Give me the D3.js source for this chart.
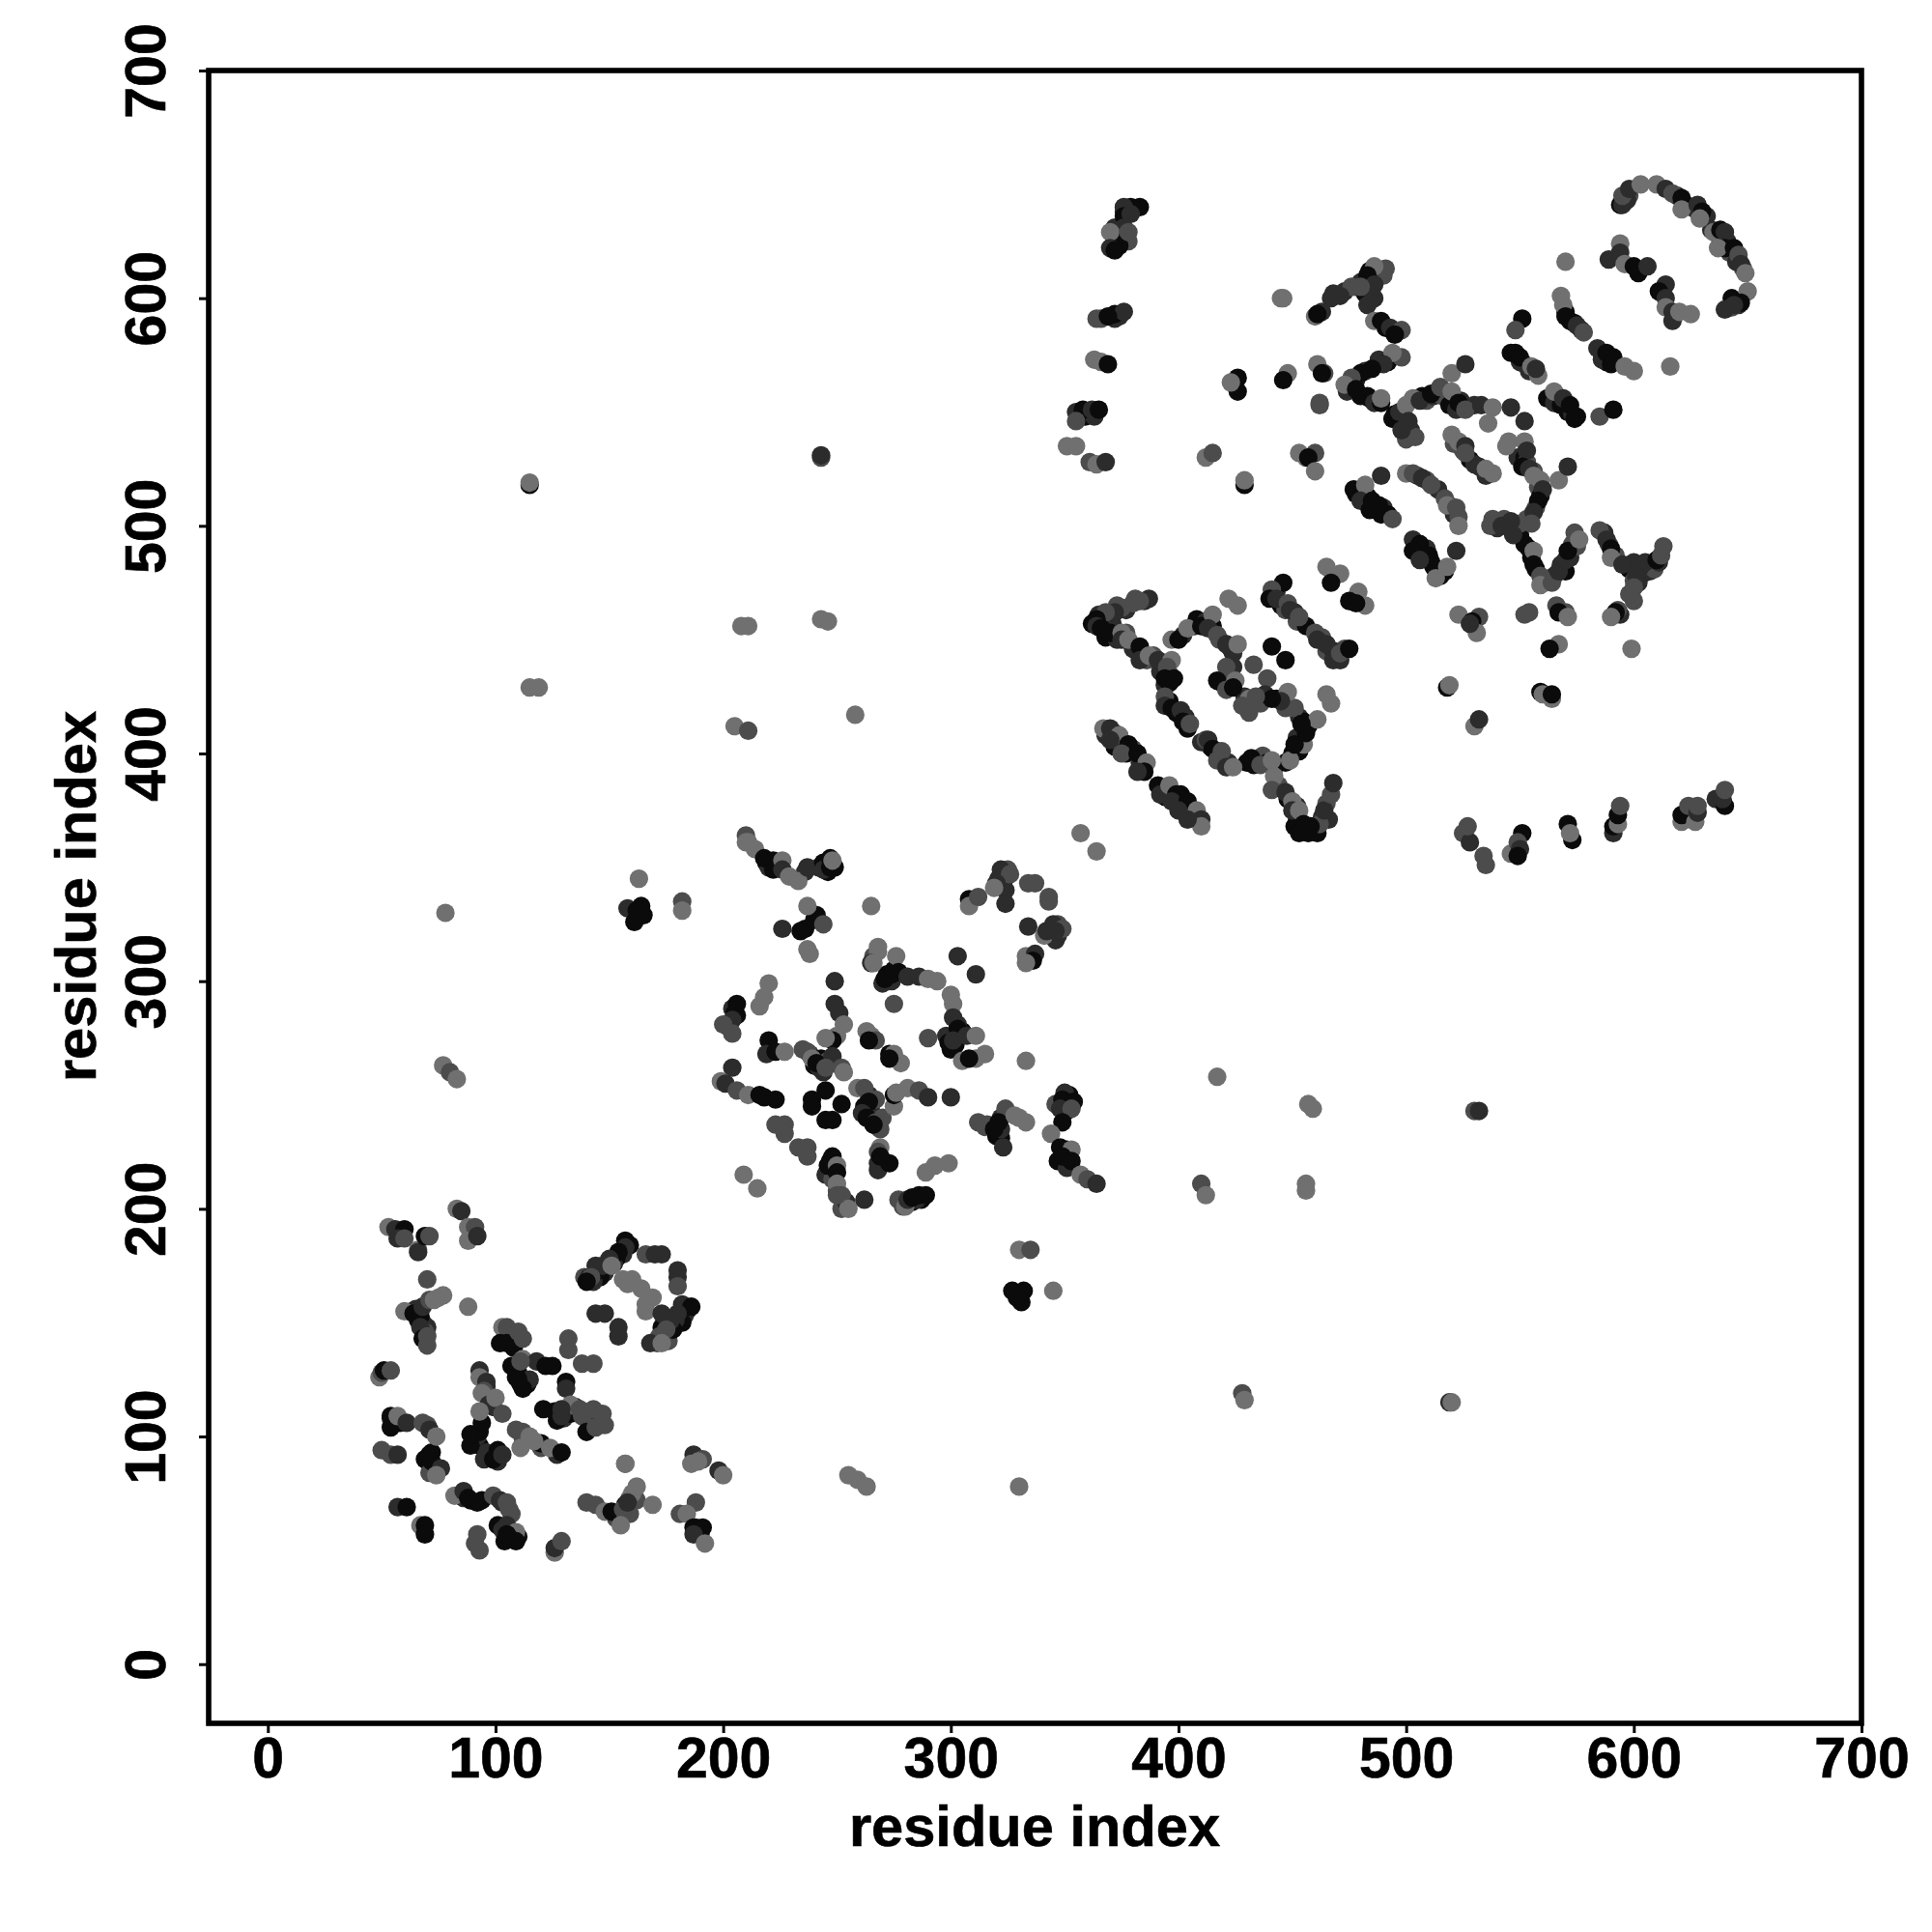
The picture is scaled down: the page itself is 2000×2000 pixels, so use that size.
<!DOCTYPE html>
<html><head><meta charset="utf-8">
<script src="https://cdn.jsdelivr.net/npm/d3@7/dist/d3.min.js"></script>
<style>html,body{margin:0;background:#fff}svg{display:block}</style>
</head><body><svg id="c" width="2000" height="2000"></svg>
<script>
// [residue x, residue y, shade index]
const outliers=[[115,518,0],[115,519,3],[243,530,2],[243,531,1],[208,456,3],[211,456,3],[243,459,3],[246,458,3],[205,412,3],[211,410,2],[258,417,3],[115,429,3],[119,429,3],[163,345,3],[158,332,1],[164,333,0],[161,326,0],[162,331,0],[165,329,0],[182,335,2],[182,331,3],[78,330,3],[77,263,3],[80,260,2],[83,257,3],[330,182,3],[335,182,2],[327,164,0],[332,164,0],[331,159,0],[329,161,0],[345,164,3],[428,119,2],[429,116,3],[519,115,1],[520,115,3],[330,78,3],[255,83,3],[259,81,3],[263,78,3],[417,258,3],[457,246,3],[459,244,3],[530,243,2],[532,243,1],[410,211,2],[412,206,3],[456,211,3],[456,208,3],[157,88,3],[357,365,3],[364,357,3],[412,530,3],[415,532,2],[445,600,3],[599,446,3],[616,570,3],[570,616,3]];
const denseA=[[159,184,0],[156,180,1],[153,178,0],[152,176,1],[148,172,1],[146,170,0],[143,168,1],[145,173,0],[139,170,2],[184,155,0],[183,153,1],[182,150,0],[179,151,1],[176,147,1],[173,148,0],[171,141,2],[176,142,2],[178,147,0],[164,165,3],[68,150,0],[70,148,1],[66,151,0],[65,156,1],[69,146,2],[104,143,1],[108,139,0],[107,131,0],[110,128,0],[114,123,0],[111,123,0],[115,125,1],[130,108,1],[133,110,0],[135,113,1],[127,107,0],[138,109,2],[144,108,2],[146,107,1],[96,122,1],[99,113,1],[94,106,0],[98,115,2],[91,99,0],[93,96,0],[96,93,1],[101,89,1],[92,100,1],[101,94,0],[112,99,2],[120,95,2],[127,92,1],[72,93,0],[73,85,1],[69,90,0],[71,84,2],[101,61,0],[106,57,0],[103,59,1],[110,56,0],[107,66,2],[103,71,1],[89,72,0],[86,73,1],[94,72,0],[157,70,0],[153,64,2],[159,73,3],[162,72,2],[159,66,2],[68,60,0],[188,60,1],[190,57,0],[54,108,1],[58,106,0]];
const denseB=[[219,352,0],[220,350,1],[224,350,1],[242,350,1],[245,351,1],[246,348,0],[249,350,0],[236,348,1],[322,346,1],[323,343,0],[321,345,1],[324,340,1],[325,349,2],[345,322,1],[347,320,1],[344,321,2],[347,325,2],[346,318,1],[304,276,0],[302,272,0],[305,278,0],[298,276,1],[300,270,0],[303,281,1],[272,303,0],[275,305,0],[274,300,1],[270,299,1],[266,311,2],[268,313,3],[206,285,0],[204,288,1],[202,280,1],[238,268,1],[240,263,0],[243,266,0],[246,265,2],[244,260,1],[264,250,1],[262,245,0],[265,243,1],[266,240,1],[268,236,0],[270,240,2],[322,240,1],[320,232,0],[322,231,0],[316,237,2],[351,243,0],[352,250,0],[350,251,1],[346,246,2],[351,226,0],[347,221,0],[351,218,1],[247,221,0],[245,215,1],[248,213,2],[250,208,2],[253,204,3],[252,200,2],[254,203,1],[283,203,0],[287,204,0],[285,204,1],[279,201,2],[268,217,1]];
const denseC=[[362,457,0],[365,461,1],[369,459,1],[373,465,2],[377,463,1],[381,468,2],[385,467,1],[368,451,0],[371,457,1],[373,450,1],[377,453,2],[380,446,1],[386,441,2],[389,443,2],[393,439,0],[392,436,1],[396,435,2],[394,430,1],[396,431,0],[402,452,1],[407,456,1],[408,459,0],[412,458,1],[415,456,0],[418,450,2],[423,446,0],[424,444,1],[422,434,1],[419,431,0],[423,430,1],[421,433,2],[443,471,1],[445,465,0],[447,463,2],[451,462,1],[452,458,2],[456,456,0],[463,451,2],[466,446,0],[470,443,1],[473,446,2],[471,441,1],[465,445,2],[396,423,0],[399,418,0],[403,416,1],[404,411,0],[410,405,1],[414,403,1],[417,401,1],[419,398,0],[422,396,1],[430,396,0],[434,397,1],[437,399,2],[439,396,0],[442,393,3],[444,386,2],[448,380,0],[452,372,0],[451,368,0],[456,367,0],[460,368,0],[463,372,1],[465,378,2],[466,371,1],[452,377,1],[447,396,0],[453,401,0],[452,407,1],[457,412,0],[453,416,1],[447,420,2],[443,424,0],[436,422,2],[429,425,1],[430,420,0],[368,408,1],[372,409,2],[372,403,0],[377,400,0],[380,402,2],[384,396,0],[383,396,1],[393,385,0],[394,381,0],[397,383,1],[401,382,0],[402,376,0],[406,373,1],[394,385,1]];
const denseD=[[478,514,0],[481,512,0],[483,513,0],[486,508,0],[490,508,1],[492,505,0],[505,522,1],[509,520,2],[514,516,1],[519,509,2],[521,505,1],[504,490,0],[507,488,0],[509,490,1],[512,482,0],[514,480,1],[517,480,0],[521,536,2],[525,533,2],[528,529,0],[530,527,1],[535,522,1],[549,530,1],[552,530,0],[553,528,2],[556,524,2],[558,517,2],[559,513,0],[557,508,2],[553,503,2],[548,499,1],[543,503,2],[540,499,1],[550,496,0],[552,492,0],[555,486,0],[557,481,0],[560,476,2],[565,478,1],[568,483,1],[570,480,0],[572,486,1],[573,492,2],[575,491,2],[587,497,1],[589,492,2],[592,487,2],[598,481,0],[600,484,1],[604,479,1],[607,480,1],[609,481,2],[611,484,1],[602,475,1],[598,470,2],[600,476,2],[594,461,1]];
const denseE=[[468,602,1],[473,603,1],[478,605,1],[480,607,1],[482,602,0],[484,604,1],[486,600,1],[490,610,2],[484,612,0],[491,587,0],[496,585,1],[488,573,1],[492,572,0],[482,568,1],[478,564,1],[475,562,2],[474,559,1],[477,563,1],[480,557,0],[484,556,0],[495,549,0],[498,545,1],[500,544,2],[502,542,1],[507,557,0],[509,555,2],[512,557,1],[516,557,2],[519,553,0],[522,551,1],[524,555,1],[530,553,1],[548,576,0],[550,572,1],[552,571,1],[554,568,1],[562,556,0],[565,554,1],[568,553,0],[571,550,0],[573,549,1],[570,594,0],[572,590,0],[574,589,0],[577,586,1],[586,576,0],[588,572,0],[586,573,1],[591,574,0],[627,639,1],[632,636,1],[598,645,2],[597,643,1],[594,641,0],[619,645,1],[623,641,1],[634,630,1],[638,626,0],[641,625,1],[642,620,2],[645,616,1],[648,613,2],[646,597,1],[643,600,0],[372,631,1],[373,628,1],[375,627,0],[378,625,2],[371,623,1],[374,623,0],[376,638,1],[379,640,0],[357,548,1],[359,548,0],[363,548,1],[366,591,2],[372,591,1],[374,592,1]];
const clusterA=[[53,192,3],[56,191,1],[60,191,0],[57,187,1],[60,187,2],[66,182,3],[66,181,1],[69,188,0],[71,188,2],[83,200,3],[85,199,1],[88,192,3],[91,192,2],[88,186,3],[92,188,1],[70,169,2],[60,155,3],[64,154,0],[67,153,0],[68,157,1],[71,160,2],[73,160,3],[75,161,3],[77,162,3],[88,157,3],[67,148,1],[68,143,0],[70,144,2],[70,140,2],[49,126,3],[50,128,2],[51,129,0],[54,129,2],[103,148,3],[105,148,2],[102,141,0],[105,141,0],[110,146,2],[112,143,2],[112,134,3],[109,130,0],[109,126,0],[112,121,0],[110,125,0],[118,133,1],[122,131,0],[125,131,0],[132,143,2],[132,138,2],[138,132,2],[143,132,2],[111,133,2],[93,129,1],[93,126,3],[96,124,1],[95,120,2],[94,119,3],[97,114,1],[100,117,3],[93,111,3],[103,110,2],[131,124,0],[131,121,1],[133,114,3],[121,112,0],[126,111,0],[129,109,1],[129,112,1],[137,112,2],[143,112,2],[147,110,2],[148,105,2],[140,102,0],[144,104,2],[89,96,0],[93,102,0],[89,101,0],[95,90,1],[99,90,0],[103,92,1],[109,103,2],[112,102,2],[115,100,3],[111,95,3],[120,97,0],[124,95,3],[129,93,0],[117,98,3],[54,109,0],[54,104,0],[57,109,3],[61,106,1],[68,106,2],[70,105,2],[71,103,1],[74,100,3],[71,92,0],[72,89,0],[76,86,1],[74,83,3],[50,94,2],[54,92,2],[57,92,1],[82,74,3],[86,76,1],[88,73,0],[92,71,0],[99,74,2],[102,72,1],[105,71,2],[106,68,2],[105,61,1],[109,58,3],[104,54,0],[109,54,0],[105,57,0],[57,69,1],[61,69,0],[67,61,3],[69,61,0],[69,57,0],[92,57,2],[91,53,2],[93,50,2],[126,49,3],[126,51,1],[129,54,2],[140,71,2],[144,70,2],[148,67,3],[151,67,0],[156,68,2],[155,61,3],[160,75,3],[162,78,3],[158,71,1],[169,70,3],[157,88,3],[181,66,2],[188,71,2],[184,66,3],[187,60,0],[191,60,0],[187,57,1],[192,53,3],[187,92,1],[191,90,2],[186,88,3],[189,89,3],[198,85,1],[200,83,3],[157,186,0],[157,183,1],[154,181,0],[150,178,1],[147,175,1],[144,175,1],[141,170,1],[142,170,2],[140,168,0],[151,175,3],[156,169,3],[160,169,3],[158,167,3],[166,180,2],[170,180,1],[173,180,1],[180,173,1],[180,170,1],[180,166,2],[144,154,1],[148,154,1],[154,148,1],[154,144,1],[166,158,3],[169,161,3],[166,155,3],[173,154,1],[182,158,1],[186,157,0],[180,154,1],[177,151,1],[175,147,2],[172,144,2],[168,141,1],[173,141,3]];
const clusterB=[[210,364,2],[210,361,3],[211,361,3],[214,358,3],[218,354,0],[222,353,0],[222,349,0],[226,353,3],[226,349,1],[229,346,3],[233,344,3],[237,350,1],[244,352,0],[244,349,1],[247,354,0],[247,350,0],[248,353,3],[226,323,1],[234,322,0],[236,323,0],[240,327,0],[241,329,0],[237,333,3],[244,325,2],[237,314,3],[238,312,3],[265,333,3],[322,349,1],[326,347,2],[320,343,1],[319,341,3],[324,334,1],[334,343,2],[337,343,2],[343,337,2],[343,335,2],[308,336,0],[308,333,3],[312,337,2],[334,324,1],[341,320,3],[342,322,1],[345,325,1],[349,323,2],[346,322,1],[333,311,3],[337,312,1],[336,309,0],[333,308,3],[268,315,3],[265,308,1],[266,308,3],[276,311,3],[272,300,1],[271,301,0],[277,304,0],[274,303,0],[281,302,1],[286,302,1],[290,301,3],[294,300,3],[303,311,1],[311,303,1],[249,300,1],[275,290,2],[300,294,3],[301,290,3],[301,284,1],[303,279,0],[299,273,0],[301,274,1],[307,276,1],[311,276,3],[315,268,3],[311,266,3],[305,265,3],[308,266,0],[333,265,3],[290,275,2],[220,299,3],[218,293,3],[216,289,3],[206,290,0],[205,286,0],[204,283,1],[200,281,2],[204,277,2],[249,290,1],[251,286,1],[253,281,3],[250,276,3],[248,274,0],[245,275,3],[263,278,3],[265,276,3],[267,274,2],[264,274,0],[273,268,0],[275,268,3],[278,264,3],[273,266,0],[220,274,0],[219,268,1],[223,269,0],[227,269,3],[235,270,2],[237,269,2],[239,266,3],[242,262,1],[241,264,0],[248,267,1],[245,262,2],[252,262,2],[253,260,3],[204,262,1],[199,256,3],[201,255,1],[206,252,2],[211,250,3],[216,250,0],[218,249,0],[223,248,0],[245,252,0],[239,248,0],[239,245,0],[252,246,0],[245,239,0],[248,239,0],[259,253,3],[262,253,2],[267,248,2],[264,247,0],[261,242,1],[263,240,0],[267,238,2],[269,235,2],[266,237,0],[275,245,3],[275,250,0],[276,251,3],[281,253,3],[286,252,2],[290,249,1],[300,249,1],[223,237,2],[227,237,2],[227,233,2],[233,227,2],[237,227,2],[237,223,2],[248,223,0],[246,219,0],[250,219,3],[250,216,0],[250,211,3],[252,206,2],[255,200,3],[250,206,2],[262,204,1],[269,227,3],[268,225,2],[268,220,1],[273,220,0],[269,223,0],[289,216,3],[293,219,3],[299,220,3],[209,215,3],[215,209,3],[277,204,2],[280,201,3],[281,204,1],[286,206,0],[289,206,0],[283,205,0],[312,238,2],[315,236,2],[324,244,2],[322,235,1],[321,238,0],[319,235,0],[328,241,3],[333,238,3],[330,240,3],[323,227,1],[354,247,0],[349,248,0],[348,244,1],[353,244,2],[349,238,0],[344,233,3],[348,227,0],[353,226,3],[349,223,0],[353,221,0],[357,215,3],[360,213,2],[364,211,1]];
const clusterC=[[387,468,1],[383,467,2],[380,466,2],[375,464,2],[372,462,1],[368,462,2],[364,459,0],[364,456,1],[366,455,0],[370,453,0],[375,453,3],[375,450,1],[378,450,3],[383,447,0],[383,441,1],[387,443,3],[391,441,1],[397,441,3],[395,438,2],[394,433,0],[398,433,0],[397,450,3],[400,450,0],[404,455,3],[410,456,0],[415,461,3],[413,455,1],[417,452,2],[421,448,1],[426,448,3],[424,438,1],[421,438,2],[417,432,0],[421,428,2],[425,432,3],[424,429,0],[422,468,3],[426,465,3],[441,447,0],[447,441,0],[433,439,2],[439,433,2],[465,482,3],[471,479,3],[467,475,0],[479,471,3],[475,467,0],[482,465,3],[478,466,0],[446,475,0],[441,472,2],[440,468,0],[443,468,1],[448,466,2],[449,463,1],[453,460,2],[460,453,2],[461,450,1],[465,448,1],[468,445,1],[468,441,1],[471,444,2],[475,446,0],[394,425,2],[394,421,1],[397,420,0],[401,419,1],[402,414,0],[405,413,2],[412,406,2],[413,406,1],[415,402,0],[419,401,2],[417,397,2],[421,394,1],[424,394,3],[432,398,0],[433,395,0],[436,395,2],[441,397,3],[442,390,3],[441,384,2],[447,383,1],[450,379,3],[450,375,1],[453,375,3],[455,369,0],[457,365,0],[461,365,0],[462,369,2],[464,375,1],[467,382,2],[468,387,1],[453,365,0],[458,368,0],[450,400,0],[449,397,3],[455,404,3],[451,404,0],[456,409,0],[455,414,0],[461,415,3],[451,420,2],[448,427,3],[445,423,1],[438,426,1],[441,424,0],[431,424,3],[428,421,2],[431,418,2],[434,425,2],[467,422,3],[465,426,3],[454,413,0],[367,411,3],[370,411,1],[374,408,3],[370,406,1],[378,404,0],[375,400,2],[382,400,0],[386,396,3],[385,392,0],[382,392,1],[391,386,0],[392,382,1],[396,386,3],[399,382,0],[397,379,1],[404,379,0],[400,375,1],[408,375,3],[410,371,1],[410,368,3],[404,371,1]];
const clusterD=[[462,554,2],[462,553,2],[453,532,3],[456,530,3],[460,532,2],[457,530,0],[460,524,3],[429,518,0],[429,520,3],[477,516,0],[482,518,3],[489,522,1],[480,511,1],[485,511,0],[488,509,0],[489,505,0],[494,503,2],[484,507,0],[500,523,3],[503,523,2],[507,521,1],[511,518,2],[517,512,2],[518,509,3],[522,508,2],[523,504,2],[523,500,3],[503,494,1],[506,492,0],[503,489,0],[510,487,0],[511,484,0],[506,485,1],[515,478,0],[518,482,3],[513,477,3],[522,489,1],[520,540,3],[523,537,3],[526,535,1],[526,532,2],[532,526,1],[535,525,3],[538,523,3],[545,537,3],[544,535,3],[552,537,3],[553,533,1],[551,526,0],[554,525,1],[556,522,3],[559,520,3],[560,516,1],[567,520,3],[571,526,1],[558,511,0],[556,506,1],[555,501,2],[550,501,2],[546,502,1],[538,503,2],[537,500,2],[542,500,1],[547,496,1],[554,490,0],[556,489,3],[556,483,0],[559,478,2],[559,474,3],[564,475,2],[567,480,1],[570,485,1],[571,489,0],[574,497,2],[576,494,3],[585,498,2],[588,494,1],[590,490,0],[590,486,3],[595,483,1],[603,482,1],[605,484,1],[610,485,0],[612,487,2],[613,491,2],[601,478,1],[600,473,2],[600,467,2],[593,463,2],[592,462,0],[590,460,3],[554,462,2],[552,461,2],[570,462,2],[566,465,2],[567,462,0],[571,460,3],[532,460,2],[523,461,3],[529,458,0],[531,453,3],[528,457,1],[567,448,3],[563,446,0],[518,429,0],[519,430,3],[559,427,0],[560,426,3],[564,424,3],[564,426,0],[530,412,3],[532,415,1],[525,365,2],[528,361,1],[527,368,2],[534,355,2],[535,351,2],[551,365,0],[546,356,3],[549,361,2],[550,358,1],[549,355,0],[571,369,0],[573,362,0],[572,365,3],[591,365,1],[591,368,0],[593,369,3],[593,373,0],[594,377,2],[621,370,3],[621,373,0],[624,377,2],[627,370,3],[628,374,1],[628,377,2],[636,380,1],[640,377,0],[639,380,1],[640,384,2]];
const clusterE=[[383,640,0],[376,640,1],[376,636,0],[379,637,1],[376,631,1],[372,626,0],[370,629,3],[370,622,1],[372,621,0],[378,629,2],[364,591,2],[372,593,0],[376,594,1],[369,592,0],[363,573,3],[366,572,3],[369,571,0],[355,550,1],[358,551,0],[362,551,1],[365,551,0],[355,546,2],[351,535,3],[355,535,3],[361,528,2],[364,527,3],[368,528,1],[446,600,3],[491,613,2],[486,614,3],[483,610,0],[486,606,1],[480,605,2],[476,605,2],[471,601,1],[467,600,1],[463,594,1],[460,592,3],[461,593,0],[483,597,1],[486,590,3],[489,590,0],[493,587,1],[498,586,2],[495,584,0],[498,574,2],[494,576,3],[490,571,1],[485,569,0],[480,567,0],[476,565,2],[473,562,3],[478,560,0],[483,557,0],[486,554,1],[489,554,0],[489,556,3],[461,571,3],[464,567,2],[463,567,0],[448,567,3],[446,564,0],[426,565,0],[426,559,0],[423,563,3],[494,547,0],[497,550,1],[500,553,3],[503,556,3],[506,555,1],[511,558,0],[515,561,2],[520,559,3],[520,567,3],[526,571,1],[523,554,0],[526,551,2],[533,553,1],[538,552,3],[546,552,1],[552,546,1],[536,545,3],[500,538,2],[504,539,2],[501,546,1],[498,542,1],[551,591,0],[548,586,2],[546,576,0],[550,574,0],[555,570,3],[558,566,3],[557,569,1],[565,559,3],[569,556,1],[572,553,0],[575,548,0],[574,547,0],[568,601,3],[569,597,3],[570,592,0],[575,588,1],[578,585,2],[584,578,1],[588,576,0],[590,571,0],[596,570,3],[600,568,3],[585,548,2],[591,551,0],[594,624,3],[589,617,1],[594,620,1],[596,615,3],[600,614,0],[602,611,0],[606,614,1],[614,606,1],[611,603,0],[614,600,1],[614,596,3],[617,594,1],[617,590,1],[620,594,3],[625,593,3],[595,641,1],[595,645,2],[598,648,1],[603,650,3],[610,650,3],[614,648,1],[617,646,2],[621,644,0],[621,639,3],[628,641,1],[630,638,0],[629,635,3],[635,629,3],[638,630,0],[640,629,1],[640,622,0],[637,622,3],[644,622,0],[646,619,2],[647,615,1],[649,611,3],[650,603,3],[647,598,0],[643,596,2],[640,595,1],[644,597,1]];
const grayShades=["#0b0b0b","#2c2c2c","#4c4c4c","#707070"];
const tickValues=[0,100,200,300,400,500,600,700];
const axisTitle="residue index";

const svg=d3.select("#c");
const x=d3.scaleLinear().domain([-26,700]).range([216,1927]);
const y=d3.scaleLinear().domain([-26,700]).range([1784,73]);
const font="'Liberation Sans',Arial,sans-serif";
const all=[...denseA,...denseB,...denseC,...denseD,...denseE,...outliers,...clusterA,...clusterB,...clusterC,...clusterD,...clusterE];
svg.append("g").selectAll("circle").data(all).join("circle")
 .attr("cx",d=>x(d[0])).attr("cy",d=>y(d[1])).attr("r",9.6).attr("fill",d=>grayShades[d[2]]);
svg.append("rect").attr("x",216).attr("y",73).attr("width",1711).attr("height",1711)
 .attr("fill","none").attr("stroke","#000").attr("stroke-width",5.6);
const gx=svg.append("g").attr("transform","translate(0,1784)").call(d3.axisBottom(x).tickValues(tickValues).tickSize(10).tickFormat(d3.format("d")));
const gy=svg.append("g").attr("transform","translate(216,0)").call(d3.axisLeft(y).tickValues(tickValues).tickSize(10).tickFormat(d3.format("d")));
[gx,gy].forEach(g=>{g.select(".domain").remove();g.selectAll("line").attr("stroke","#000").attr("stroke-width",3);
 g.selectAll("text").attr("font-family",font).attr("font-weight","bold").attr("font-size",59).attr("fill","#000").attr("stroke","#000").attr("stroke-width",0.6);});
gx.selectAll("text").attr("y",56).attr("dy",0);
gy.selectAll("text").attr("x",0).attr("y",0).attr("dy",0).attr("text-anchor","middle").attr("transform","translate(-45,0) rotate(-90)");
svg.append("text").attr("x",1071).attr("y",1911).attr("text-anchor","middle").attr("font-family",font).attr("font-weight","bold").attr("font-size",59.6).attr("stroke","#000").attr("stroke-width",0.6).text(axisTitle);
svg.append("text").attr("transform","translate(99,928) rotate(-90)").attr("text-anchor","middle").attr("font-family",font).attr("font-weight","bold").attr("font-size",59.6).attr("stroke","#000").attr("stroke-width",0.6).text(axisTitle);
</script></body></html>
